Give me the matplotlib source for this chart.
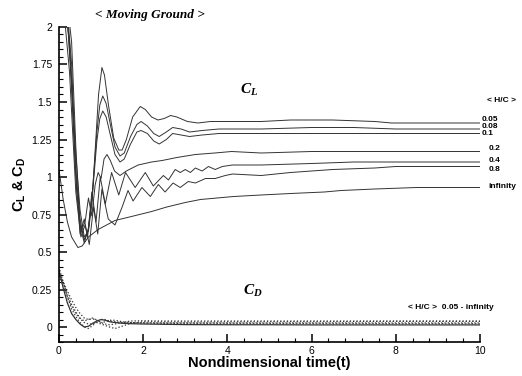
import matplotlib
matplotlib.use('Agg')
import matplotlib.pyplot as plt
from matplotlib.ticker import MultipleLocator

plt.rcParams['font.family'] = ['Liberation Sans', 'DejaVu Sans']
plt.rcParams['mathtext.fontset'] = 'custom'
plt.rcParams['mathtext.it'] = 'Liberation Serif:italic:bold'
plt.rcParams['mathtext.bf'] = 'Liberation Sans:bold'
plt.rcParams['mathtext.rm'] = 'Liberation Sans:bold'

# lift coefficient, one curve per ground height H/C
t05 = [0, 0.1, 0.2, 0.3, 0.4, 0.5, 0.6, 0.7, 0.78, 0.86, 0.94, 1.02, 1.08, 1.18, 1.3, 1.42, 1.5, 1.6, 1.75, 1.93,
       2.05, 2.2, 2.35, 2.5, 2.65, 2.8, 3.05, 3.3, 3.6, 4.0, 4.8, 5.5, 6.5, 7.5, 7.9, 8.5, 10]
cl05 = [2.6, 2.35, 2.05, 1.65, 1.15, 0.78, 0.6, 0.64, 0.82, 1.18, 1.55, 1.73, 1.68, 1.47, 1.26, 1.18, 1.18, 1.25, 1.4, 1.47,
        1.45, 1.4, 1.38, 1.39, 1.41, 1.4, 1.37, 1.36, 1.37, 1.37, 1.37, 1.38, 1.38, 1.37, 1.36, 1.36, 1.36]

t_mid = [0, 0.1, 0.2, 0.3, 0.4, 0.5, 0.6, 0.7, 0.8, 0.9, 0.97, 1.04, 1.12, 1.22, 1.33, 1.45, 1.55, 1.7, 1.85, 1.95,
         2.1, 2.25, 2.38, 2.55, 2.7, 2.9, 3.1, 3.4, 3.8, 4.8, 6, 7, 8, 9, 10]
cl08 = [2.5, 2.4, 2.1, 1.75, 1.05, 0.72, 0.58, 0.65, 0.92, 1.3, 1.48, 1.54, 1.49, 1.35, 1.2, 1.14, 1.16, 1.27, 1.35, 1.37,
        1.34, 1.29, 1.27, 1.3, 1.33, 1.32, 1.3, 1.31, 1.32, 1.32, 1.33, 1.33, 1.32, 1.32, 1.32]
cl10 = [2.4, 2.3, 2.15, 1.9, 1.2, 0.68, 0.56, 0.66, 0.9, 1.24, 1.39, 1.44, 1.4, 1.28, 1.15, 1.1, 1.12, 1.22, 1.3, 1.31,
        1.29, 1.24, 1.22, 1.25, 1.29, 1.28, 1.27, 1.28, 1.29, 1.29, 1.29, 1.29, 1.29, 1.29, 1.29]

t20 = [0, 0.1, 0.2, 0.3, 0.42, 0.52, 0.62, 0.7, 0.78, 0.86, 0.93, 1.0, 1.07, 1.14, 1.22, 1.32, 1.45, 1.6, 1.88, 2.2,
       2.45, 2.8, 3.24, 3.7, 4.1, 4.8, 6, 7, 8, 10]
cl20 = [2.3, 2.2, 2.05, 1.6, 0.9, 0.64, 0.7, 0.86, 0.74, 0.95, 1.03, 0.99, 1.12, 1.15, 1.11, 1.04, 1.01, 1.04, 1.08, 1.10,
        1.11, 1.13, 1.15, 1.16, 1.17, 1.16, 1.17, 1.17, 1.17, 1.17]

t40 = [0, 0.12, 0.25, 0.38, 0.5, 0.6, 0.68, 0.78, 0.88, 0.98, 1.1, 1.25, 1.42, 1.58, 1.81, 2.05, 2.24, 2.48, 2.6, 2.76,
       2.88, 3.0, 3.12, 3.24, 3.4, 3.55, 3.71, 3.88, 4.12, 4.8, 6, 7, 8, 10]
cl40 = [2.3, 2.2, 1.9, 1.1, 0.62, 0.72, 0.6, 0.9, 0.7, 1.0, 0.82, 1.03, 0.88, 1.03, 0.93, 1.03, 0.94, 1.01, 0.98, 1.05,
        1.03, 1.05, 1.03, 1.06, 1.04, 1.07, 1.05, 1.07, 1.08, 1.08, 1.09, 1.10, 1.10, 1.10]

t80 = [0, 0.12, 0.25, 0.4, 0.52, 0.62, 0.72, 0.82, 0.92, 1.02, 1.17, 1.33, 1.5, 1.64, 1.76, 1.97, 2.17, 2.36, 2.52, 2.71,
       2.88, 3.07, 3.24, 3.48, 3.71, 3.95, 4.12, 4.8, 5.5, 6.5, 7.5, 8, 10]
cl80 = [2.2, 2.1, 1.7, 0.9, 0.6, 0.68, 0.55, 0.8, 0.62, 0.92, 0.72, 0.68, 0.8, 0.91, 0.84, 0.93, 0.87, 0.95, 0.9, 0.96,
        0.93, 0.97, 0.96, 0.99, 0.99, 1.01, 1.02, 1.01, 1.03, 1.05, 1.06, 1.07, 1.07]

tinf = [0, 0.1, 0.2, 0.3, 0.45, 0.55, 0.7, 0.93, 1.33, 1.77, 2.2, 2.56, 3.0, 3.36, 4.15, 4.8, 5.5, 6.3, 6.7, 7.5, 8.5, 10]
clinf = [1.05, 0.85, 0.7, 0.6, 0.53, 0.54, 0.6, 0.65, 0.71, 0.74, 0.77, 0.80, 0.83, 0.85, 0.87, 0.88, 0.89, 0.90, 0.91,
         0.92, 0.93, 0.93]

cl_curves = [(t05, cl05), (t_mid, cl08), (t_mid, cl10), (t20, cl20), (t40, cl40), (t80, cl80), (tinf, clinf)]
hc_labels = ['0.05', '0.08', '0.1', '0.2', '0.4', '0.8', 'infinity']
hc_label_y = [1.385, 1.335, 1.29, 1.19, 1.11, 1.05, 0.94]

# drag coefficient
tcd = [0, 0.1, 0.2, 0.3, 0.4, 0.5, 0.6, 0.7, 0.8, 0.9, 1.0, 1.1, 1.2, 1.33, 1.5, 1.7, 2.0, 2.5, 3, 4, 5, 6, 7, 8, 9, 10]
cd_a = [0.38, 0.26, 0.16, 0.09, 0.05, 0.02, 0.0, 0.005, 0.025, 0.04, 0.05, 0.045, 0.035, 0.03, 0.025, 0.022, 0.02,
        0.018, 0.016, 0.015, 0.015, 0.014, 0.014, 0.014, 0.014, 0.014]
cd_b = [0.4, 0.3, 0.2, 0.12, 0.07, 0.03, 0.0, -0.01, 0.01, 0.035, 0.05, 0.05, 0.04, 0.035, 0.03, 0.028, 0.026, 0.024,
        0.022, 0.022, 0.022, 0.022, 0.022, 0.022, 0.022, 0.022]
cd_c = [0.36, 0.3, 0.22, 0.15, 0.1, 0.06, 0.04, 0.05, 0.06, 0.045, 0.03, 0.035, 0.045, 0.045, 0.035, 0.03, 0.028, 0.027,
        0.027, 0.027, 0.027, 0.027, 0.027, 0.027, 0.027, 0.027]
cd_d = [0.34, 0.27, 0.2, 0.14, 0.09, 0.055, 0.03, 0.02, 0.02, 0.03, 0.02, 0.01, 0.0, -0.01, 0.005, 0.025, 0.035, 0.034,
        0.033, 0.034, 0.035, 0.035, 0.036, 0.037, 0.037, 0.037]
cd_e = [0.35, 0.3, 0.24, 0.18, 0.13, 0.09, 0.06, 0.05, 0.055, 0.045, 0.03, 0.02, 0.015, 0.02, 0.03, 0.04, 0.042, 0.04,
        0.04, 0.04, 0.04, 0.04, 0.04, 0.04, 0.04, 0.04]
cd_curves = [cd_a, cd_b, cd_c, cd_d, cd_e]
cd_styles = ['-', ':', ':', ':', ':']

fig = plt.figure(figsize=(5.22, 3.76), dpi=100)
ax = fig.add_axes([0.113, 0.0904, 0.8065, 0.8378])

line_col = '#333333'
for (t, y) in cl_curves:
    ax.plot(t, y, color=line_col, lw=0.7)
for y, ls in zip(cd_curves, cd_styles):
    ax.plot(tcd, y, color=line_col, lw=0.9, ls=ls)

ax.set_xlim(0, 10)
ax.set_ylim(-0.1, 2)
ax.spines['top'].set_visible(False)
ax.spines['right'].set_visible(False)
ax.spines['left'].set_linewidth(1.2)
ax.spines['bottom'].set_linewidth(1.2)

ax.xaxis.set_major_locator(MultipleLocator(2))
ax.xaxis.set_minor_locator(MultipleLocator(0.4))
ax.yaxis.set_minor_locator(MultipleLocator(0.05))
ax.set_yticks([0, 0.25, 0.5, 0.75, 1, 1.25, 1.5, 1.75, 2])
ax.set_yticklabels(['0', '0.25', '0.5', '0.75', '1', '1.25', '1.5', '1.75', '2'])
ax.tick_params(which='major', direction='in', length=6, width=1.1, labelsize=7.5)
ax.tick_params(which='minor', direction='in', length=3, width=0.8)
ax.tick_params(axis='x', pad=3)
ax.tick_params(axis='y', pad=5)

ax.set_xlabel('Nondimensional time(t)', fontsize=10.5, fontweight='bold')
ax.xaxis.set_label_coords(0.5, -0.045)
ax.set_ylabel(r'C$_\mathbf{L}$ & C$_\mathbf{D}$', fontsize=10.5, fontweight='bold')
ax.yaxis.set_label_coords(-0.074, 0.5)

ax.text(2.17, 2.08, '< Moving Ground >', family='Liberation Serif', style='italic', fontweight='bold',
        fontsize=9.5, ha='center', va='center', clip_on=False)
ax.text(4.52, 1.58, r'$C_L$', fontsize=11, ha='center', va='center')
ax.text(4.6, 0.24, r'$C_D$', fontsize=11, ha='center', va='center')

ax.text(10.5, 1.51, '< H/C >', fontsize=6, fontweight='bold', ha='center', va='center', clip_on=False)
for lab, y in zip(hc_labels, hc_label_y):
    x0 = 10.05 if lab in ('0.05', '0.08', '0.1') else 10.2
    ax.text(x0, y, lab, fontsize=6, fontweight='bold', ha='left', va='center', clip_on=False)
ax.text(8.3, 0.13, '< H/C >  0.05 - infinity', fontsize=6, fontweight='bold', ha='left', va='center')

fig.savefig('out.png', dpi=100)
